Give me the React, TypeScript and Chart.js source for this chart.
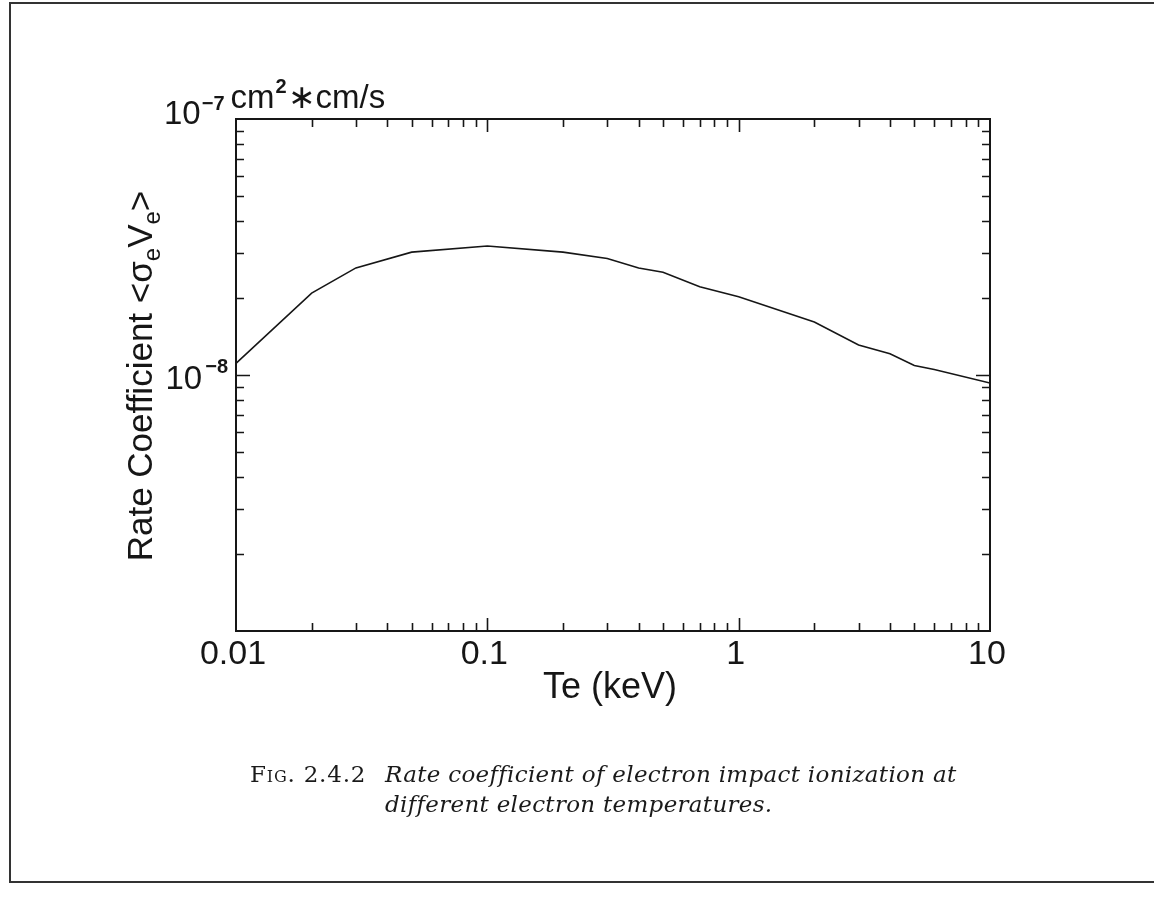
import React, { useEffect, useRef } from 'react';
import { Chart, registerables } from 'chart.js';

Chart.register(...registerables);

// Electron temperature (keV)
const TE_KEV = [0.01, 0.02, 0.03, 0.05, 0.1, 0.2, 0.3, 0.4, 0.5, 0.7, 1, 2, 3, 4, 5, 6, 10];
// Rate coefficient <sigma_e V_e> (cm^3/s)
const RATE = [
  1.11e-8, 2.09e-8, 2.62e-8, 3.02e-8, 3.19e-8, 3.02e-8, 2.85e-8, 2.62e-8, 2.52e-8,
  2.21e-8, 2.02e-8, 1.61e-8, 1.31e-8, 1.21e-8, 1.09e-8, 1.05e-8, 0.93e-8,
];

const X_MIN = 0.01;
const X_MAX = 10;
const Y_MIN = 1e-9;
const Y_MAX = 1e-7;

const X_TICK_VALUES = [0.01, 0.1, 1, 10];
const X_TICK_LABELS = ['0.01', '0.1', '1', '10'];
const Y_TICK_VALUES = [1e-8];
const Y_TICK_EXPONENTS = ['\u22128'];
const TOP_EXPONENT = '\u22127';
const UNIT_TEXT = 'cm';
const X_TITLE = 'Te (keV)';
const Y_TITLE = 'Rate Coefficient <\u03c3';

const INK = '#161616';
const SANS = '"Liberation Sans", Arial, sans-serif';

const framePlugin = {
  id: 'framePlugin',
  afterDraw(chart: any) {
    const { ctx, chartArea, scales } = chart;
    const { left, right, top, bottom } = chartArea;
    const xs = scales.x;
    const ys = scales.y;
    ctx.save();
    ctx.strokeStyle = INK;
    ctx.fillStyle = INK;
    ctx.lineWidth = 2;
    ctx.strokeRect(left, top, right - left, bottom - top);

    // x ticks (inward, bottom and top)
    ctx.lineWidth = 1.6;
    for (let d = -2; d <= 0; d++) {
      for (let k = 1; k <= 9; k++) {
        const v = k * Math.pow(10, d);
        if (v <= X_MIN * 1.0001 || v >= X_MAX * 0.9999) continue;
        const len = k === 1 ? 13 : 8;
        const px = Math.round(xs.getPixelForValue(v)) + 0.5;
        ctx.beginPath();
        ctx.moveTo(px, bottom);
        ctx.lineTo(px, bottom - len);
        ctx.moveTo(px, top);
        ctx.lineTo(px, top + len);
        ctx.stroke();
      }
    }
    // y ticks (inward, left and right)
    for (let d = -9; d <= -8; d++) {
      for (let k = 1; k <= 9; k++) {
        const v = k * Math.pow(10, d);
        if (v <= Y_MIN * 1.0001 || v >= Y_MAX * 0.9999) continue;
        const len = k === 1 ? 14 : 8;
        const py = Math.round(ys.getPixelForValue(v)) + 0.5;
        ctx.beginPath();
        ctx.moveTo(left, py);
        ctx.lineTo(left + len, py);
        ctx.moveTo(right, py);
        ctx.lineTo(right - len, py);
        ctx.stroke();
      }
    }

    // x tick labels
    ctx.font = `34px ${SANS}`;
    ctx.textAlign = 'center';
    ctx.textBaseline = 'top';
    X_TICK_VALUES.forEach((v, i) => {
      ctx.fillText(X_TICK_LABELS[i], xs.getPixelForValue(v) - 3, bottom + 7);
    });

    // y tick labels 10^-8
    Y_TICK_VALUES.forEach((v, i) => {
      const py = ys.getPixelForValue(v);
      ctx.textBaseline = 'alphabetic';
      ctx.textAlign = 'right';
      ctx.font = `bold 20px ${SANS}`;
      const supRight = left - 8;
      ctx.fillText(Y_TICK_EXPONENTS[i], supRight, py - 2);
      const supW = ctx.measureText(Y_TICK_EXPONENTS[i]).width;
      ctx.font = `33px ${SANS}`;
      ctx.fillText('10', supRight - supW - 3, py + 14);
    });

    // top label 10^-7 cm^2*cm/s
    {
      const py = ys.getPixelForValue(Y_MAX);
      ctx.textAlign = 'left';
      ctx.textBaseline = 'alphabetic';
      ctx.font = `33px ${SANS}`;
      const w10 = ctx.measureText('10').width;
      let xPos = left - 72;
      ctx.fillText('10', xPos, py + 5);
      xPos += w10 + 1;
      ctx.font = `bold 20px ${SANS}`;
      ctx.fillText(TOP_EXPONENT, xPos, py - 9);
      xPos += ctx.measureText(TOP_EXPONENT).width + 6;
      ctx.font = `33px ${SANS}`;
      ctx.fillText(UNIT_TEXT, xPos, py - 11);
      xPos += ctx.measureText(UNIT_TEXT).width + 1;
      ctx.font = `bold 20px ${SANS}`;
      ctx.fillText('2', xPos, py - 26);
      xPos += ctx.measureText('2').width + 1;
      ctx.font = `33px ${SANS}`;
      ctx.fillText('\u2217cm/s', xPos, py - 11);
    }

    // x title
    ctx.font = `36px ${SANS}`;
    ctx.textAlign = 'center';
    ctx.textBaseline = 'alphabetic';
    ctx.fillText(X_TITLE, (left + right) / 2 - 3, bottom + 67);

    // y title (rotated)
    {
      const cy = (top + bottom) / 2;
      ctx.translate(left - 84, cy + 1);
      ctx.rotate(-Math.PI / 2);
      const big = `35px ${SANS}`;
      const small = `24px ${SANS}`;
      const parts: [string, string, number][] = [
        [Y_TITLE, big, 0],
        ['e', small, 8],
        ['V', big, 0],
        ['e', small, 8],
        ['>', big, 0],
      ];
      let total = 0;
      parts.forEach(([t, f]) => {
        ctx.font = f;
        total += ctx.measureText(t).width;
      });
      let xx = -total / 2;
      ctx.textAlign = 'left';
      parts.forEach(([t, f, dy]) => {
        ctx.font = f;
        ctx.fillText(t, xx, dy);
        xx += ctx.measureText(t).width;
      });
    }
    ctx.restore();
  },
};

export default function App() {
  const canvasRef = useRef<HTMLCanvasElement | null>(null);

  useEffect(() => {
    if (!canvasRef.current) return;
    const chart = new Chart(canvasRef.current, {
      type: 'line',
      data: {
        datasets: [
          {
            data: TE_KEV.map((x, i) => ({ x, y: RATE[i] })),
            borderColor: INK,
            borderWidth: 1.6,
            pointRadius: 0,
            fill: false,
            tension: 0,
          },
        ],
      },
      options: {
        animation: false,
        responsive: false,
        maintainAspectRatio: false,
        layout: { padding: { left: 236, right: 164, top: 119, bottom: 276 } },
        plugins: { legend: { display: false }, tooltip: { enabled: false }, title: { display: false } },
        scales: {
          x: { type: 'logarithmic', min: X_MIN, max: X_MAX, display: false },
          y: { type: 'logarithmic', min: Y_MIN, max: Y_MAX, display: false },
        },
      },
      plugins: [framePlugin],
    } as any);
    return () => chart.destroy();
  }, []);

  return (
    <div
      style={{
        position: 'absolute',
        left: 0,
        top: 0,
        width: 1154,
        height: 907,
        background: '#fff',
        overflow: 'hidden',
      }}
    >
      <div
        style={{
          position: 'absolute',
          left: 9,
          top: 2,
          width: 1160,
          height: 877,
          borderTop: '2px solid #333',
          borderLeft: '2px solid #333',
          borderBottom: '2px solid #333',
        }}
      />
      <canvas ref={canvasRef} width={1154} height={907} style={{ position: 'absolute', left: 0, top: 0 }} />
      <div
        style={{
          position: 'absolute',
          left: 250,
          top: 759,
          fontFamily: '"DejaVu Serif", serif',
          fontSize: 23,
          lineHeight: '30px',
          color: '#1a1a1a',
          whiteSpace: 'nowrap',
          letterSpacing: '0.8px',
        }}
      >
        <span style={{ fontVariant: 'small-caps' }}>Fig.</span> 2.4.2
      </div>
      <div
        style={{
          position: 'absolute',
          left: 385,
          top: 759,
          fontFamily: '"DejaVu Serif", serif',
          fontStyle: 'italic',
          fontSize: 23,
          lineHeight: '30px',
          color: '#1a1a1a',
          whiteSpace: 'nowrap',
          letterSpacing: '0.3px',
        }}
      >
        Rate coefficient of electron impact ionization at
        <br />
        different electron temperatures.
      </div>
    </div>
  );
}
